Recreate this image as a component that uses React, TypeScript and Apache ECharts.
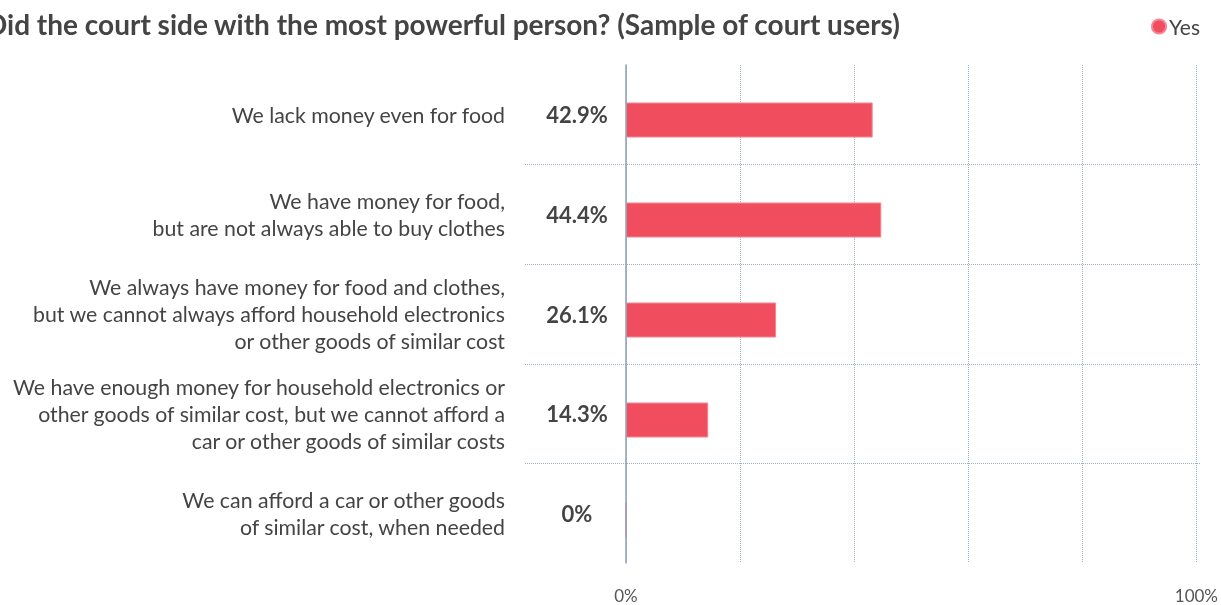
import React, { useEffect, useRef } from "react";
import * as echarts from "echarts";

const titleText = "Did the court side with the most powerful person? (Sample of court users)";
const seriesName = "Yes";
const categories = [
  "We lack money even for food",
  "We have money for food,\nbut are not always able to buy clothes",
  "We always have money for food and clothes,\nbut we cannot always afford household electronics\nor other goods of similar cost",
  "We have enough money for household electronics or\nother goods of similar cost, but we cannot afford a\ncar or other goods of similar costs",
  "We can afford a car or other goods\nof similar cost, when needed",
];
const values = [42.9, 44.4, 26.1, 14.3, 0];
const valueLabels = ["42.9%", "44.4%", "26.1%", "14.3%", "0%"];
const xTickLabels: Record<number, string> = { 0: "0%", 100: "100%" };

const FONT = "Lato, 'Noto Sans', sans-serif";
const TEXT = "#444444";
const GRIDLINE = "#9fafc2";

export default function App() {
  const ref = useRef<HTMLDivElement>(null);
  useEffect(() => {
    if (!ref.current) return;
    const chart = echarts.init(ref.current, undefined, { renderer: "svg" });
    chart.setOption({
      animation: false,
      textStyle: { fontFamily: FONT },
      title: {
        text: titleText,
        left: -19,
        top: 5,
        textStyle: { fontFamily: FONT, fontSize: 28, fontWeight: "bold", color: TEXT },
      },
      legend: {
        right: 16,
        top: 11,
        selectedMode: false,
        icon: "circle",
        itemWidth: 14,
        itemHeight: 14,
        itemGap: 10,
        textStyle: { fontFamily: FONT, fontSize: 21, color: TEXT, padding: [0, 0, 0, -2] },
        data: [seriesName],
      },
      grid: [
        { left: 525, right: 20, top: 65, height: 498 },
        { left: 626, right: 20, top: 65, height: 498 },
        { left: 626, right: 20, top: 70, height: 500 },
      ],
      xAxis: [
        { gridIndex: 0, type: "value", show: false, min: 0, max: 100 },
        {
          gridIndex: 1,
          type: "value",
          min: 0,
          max: 100,
          interval: 20,
          axisLine: { show: false },
          axisTick: { show: false },
          axisLabel: {
            margin: 24,
            fontFamily: FONT,
            fontSize: 17,
            color: "#555555",
            formatter: (v: number) => xTickLabels[v] ?? "",
          },
          splitLine: { show: true, lineStyle: { type: "dotted", color: GRIDLINE, width: 1 } },
        },
        { gridIndex: 2, type: "value", show: false, min: 0, max: 100 },
      ],
      yAxis: [
        {
          gridIndex: 0,
          type: "category",
          inverse: true,
          data: categories,
          axisLine: { show: false },
          axisTick: { show: false },
          axisLabel: {
            margin: 20,
            fontFamily: FONT,
            fontSize: 21.3,
            lineHeight: 27,
            color: TEXT,
            align: "right",
          },
          splitLine: {
            show: true,
            showMinLine: false,
            showMaxLine: false,
            lineStyle: { type: "dotted", color: GRIDLINE, width: 1 },
          },
        },
        {
          gridIndex: 1,
          type: "category",
          inverse: true,
          data: categories,
          axisLine: { show: true, lineStyle: { color: "#8ca0b6", width: 1.5 } },
          axisTick: { show: false },
          axisLabel: {
            margin: 49,
            align: "center",
            fontFamily: FONT,
            fontSize: 22,
            fontWeight: "bold",
            color: TEXT,
            formatter: (_v: string, i: number) => valueLabels[i],
          },
          splitLine: { show: false },
          z: 5,
        },
        {
          gridIndex: 2,
          type: "category",
          inverse: true,
          data: categories,
          show: false,
        },
      ],
      series: [
        {
          name: seriesName,
          type: "bar",
          xAxisIndex: 2,
          yAxisIndex: 2,
          data: values,
          barWidth: 35,
          itemStyle: { color: "#f04e5e", borderColor: "#f58591", borderWidth: 1 },
          z: 3,
        },
      ],
    });
    return () => chart.dispose();
  }, []);
  return (
    <div
      ref={ref}
      style={{ position: "fixed", left: 0, top: 0, width: 1221, height: 605 }}
    />
  );
}
